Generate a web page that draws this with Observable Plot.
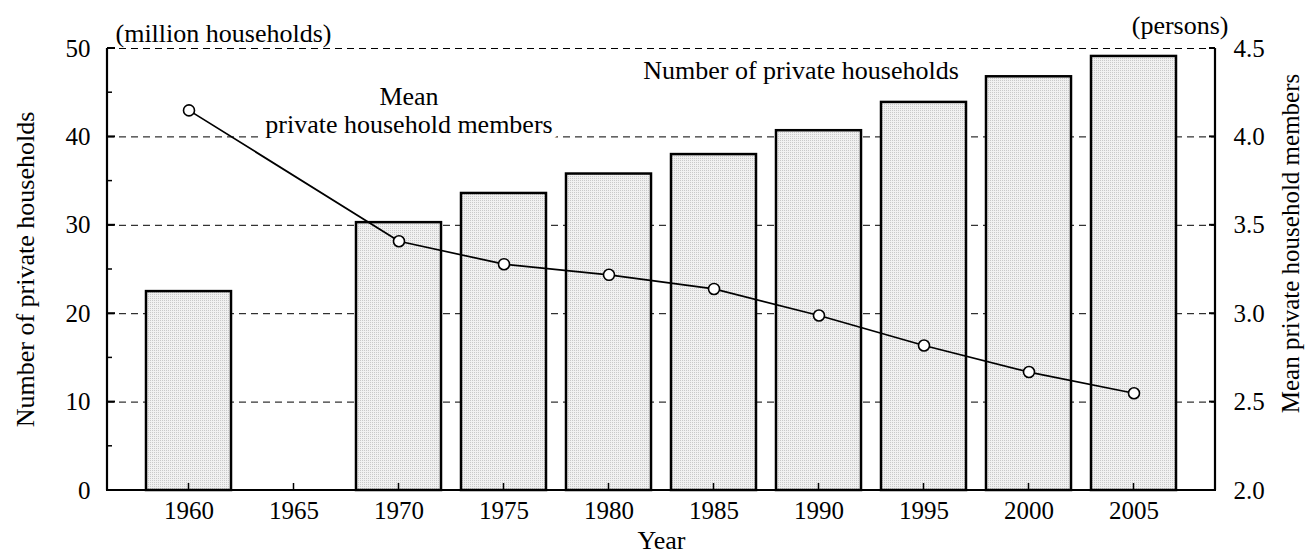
<!DOCTYPE html>
<html>
<head>
<meta charset="utf-8">
<script src="https://cdn.jsdelivr.net/npm/d3@7"></script>
<script src="https://cdn.jsdelivr.net/npm/@observablehq/plot@0.6"></script>
<style>
  html, body { margin: 0; padding: 0; background: white; }
  #chart svg { display: block; }
</style>
</head>
<body>
<div id="chart"></div>
<script>
// ---- data ----
const years = ["1960", "1965", "1970", "1975", "1980", "1985", "1990", "1995", "2000", "2005"];
const dataYears = ["1960", "1970", "1975", "1980", "1985", "1990", "1995", "2000", "2005"];
const households = [22.5, 30.3, 33.6, 35.8, 38.0, 40.7, 43.9, 46.8, 49.1]; // million households
const meanMembers = [4.15, 3.41, 3.28, 3.22, 3.14, 2.99, 2.82, 2.67, 2.55]; // persons
const leftTicks = [0, 10, 20, 30, 40, 50];
const leftMinorTicks = [5, 15, 25, 35, 45];
const rightTicks = [2.0, 2.5, 3.0, 3.5, 4.0, 4.5];

// right axis (2.0–4.5 persons) mapped onto left scale (0–50)
const toLeft = v => (v - 2) * 20;

const barData = dataYears.map((year, i) => ({year, value: households[i]}));
const lineData = dataYears.map((year, i) => ({year, value: toLeft(meanMembers[i]), mean: meanMembers[i]}));

const font = "'Liberation Serif', 'Times New Roman', serif";
const tickFs = 25, textFs = 26;

const plot = Plot.plot({
  width: 1306,
  height: 560,
  marginTop: 48,
  marginBottom: 70,
  marginLeft: 107,
  marginRight: 91,
  style: {fontFamily: font, fontSize: "25px", background: "white", color: "black", overflow: "visible"},
  x: {type: "band", domain: years, paddingInner: 0.194, paddingOuter: 0.348, align: 0.5},
  y: {domain: [0, 50]},
  marks: [
    Plot.ruleY(leftTicks.filter(d => d > 0), {stroke: "black", strokeWidth: 1, strokeDasharray: "7,5"}),
    Plot.barY(barData, {x: "year", y: "value", fill: "url(#dots)", stroke: "black", strokeWidth: 2.5}),
    Plot.line(lineData, {x: "year", y: "value", stroke: "black", strokeWidth: 1.7}),
    Plot.dot(lineData, {x: "year", y: "value", r: 5.5, fill: "white", stroke: "black", strokeWidth: 1.6}),
    Plot.axisX({tickSize: 0, tickPadding: 11, fontSize: tickFs, label: null}),
    Plot.axisY(leftTicks, {anchor: "left", tickSize: 0, tickPadding: 17, fontSize: tickFs, label: null}),
    Plot.axisY(rightTicks.map(toLeft), {anchor: "right", tickSize: 0, tickPadding: 18, fontSize: tickFs, label: null,
      tickFormat: d => (d / 20 + 2).toFixed(1)}),
    Plot.text(["Number of private households"], {frameAnchor: "left", textAnchor: "middle", dx: -82, rotate: -90, fontSize: textFs}),
    Plot.text(["Mean private household members"], {frameAnchor: "right", textAnchor: "middle", dx: 75, dy: -26, rotate: -90, fontSize: 25}),
    Plot.text(["Year"], {frameAnchor: "bottom", dy: 58, fontSize: textFs}),
    Plot.text(["(million households)"], {frameAnchor: "top-left", textAnchor: "start", dx: 8, dy: -25, fontSize: textFs}),
    Plot.text(["(persons)"], {frameAnchor: "top-right", textAnchor: "end", dx: 13, dy: -33, fontSize: textFs}),
    Plot.text(["Number of private households"], {x: () => "1990", y: () => 47.5, dx: -18, fontSize: textFs}),
    Plot.text(["Mean\nprivate household members"], {x: () => "1970", y: () => 43.0, dx: 10, fontSize: textFs,
      lineHeight: 1.08, stroke: "white", strokeWidth: 14, strokeLinejoin: "round", fill: "black"})
  ]
});

// pattern fill for bars (fine grey stipple)
const svg = d3.select(plot);
svg.insert("defs", ":first-child").html(
  '<pattern id="dots" width="2" height="2" patternUnits="userSpaceOnUse">' +
  '<rect width="2" height="2" fill="#f1f1f1"></rect>' +
  '<rect width="1" height="1" fill="#c9c9c9"></rect></pattern>'
);

// axis lines and inward ticks, placed through Plot's own scales
const xs = plot.scale("x"), ys = plot.scale("y");
const x0 = 107, x1 = 1306 - 91;
const yBottom = ys.apply(0), yTop = ys.apply(50);
const g = svg.append("g").attr("stroke", "black").attr("fill", "none");
g.append("line").attr("x1", x0).attr("x2", x0).attr("y1", yTop).attr("y2", yBottom).attr("stroke-width", 2.2);
g.append("line").attr("x1", x1).attr("x2", x1).attr("y1", yTop).attr("y2", yBottom).attr("stroke-width", 2.2);
g.append("line").attr("x1", x0 - 1).attr("x2", x1 + 1).attr("y1", yBottom).attr("y2", yBottom).attr("stroke-width", 2.2);
for (const t of leftTicks) {
  g.append("line").attr("x1", x0).attr("x2", x0 + 8).attr("y1", ys.apply(t)).attr("y2", ys.apply(t)).attr("stroke-width", 2);
}
for (const t of leftMinorTicks) {
  g.append("line").attr("x1", x0).attr("x2", x0 + 5).attr("y1", ys.apply(t)).attr("y2", ys.apply(t)).attr("stroke-width", 1.5);
}
for (const t of rightTicks) {
  const yy = ys.apply(toLeft(t));
  g.append("line").attr("x1", x1).attr("x2", x1 - 6).attr("y1", yy).attr("y2", yy).attr("stroke-width", 2);
}
for (const yr of years) {
  const xx = xs.apply(yr) + xs.bandwidth / 2;
  g.append("line").attr("x1", xx).attr("x2", xx).attr("y1", yBottom).attr("y2", yBottom - 7).attr("stroke-width", 1.5);
}

document.getElementById("chart").appendChild(plot);
</script>
</body>
</html>
